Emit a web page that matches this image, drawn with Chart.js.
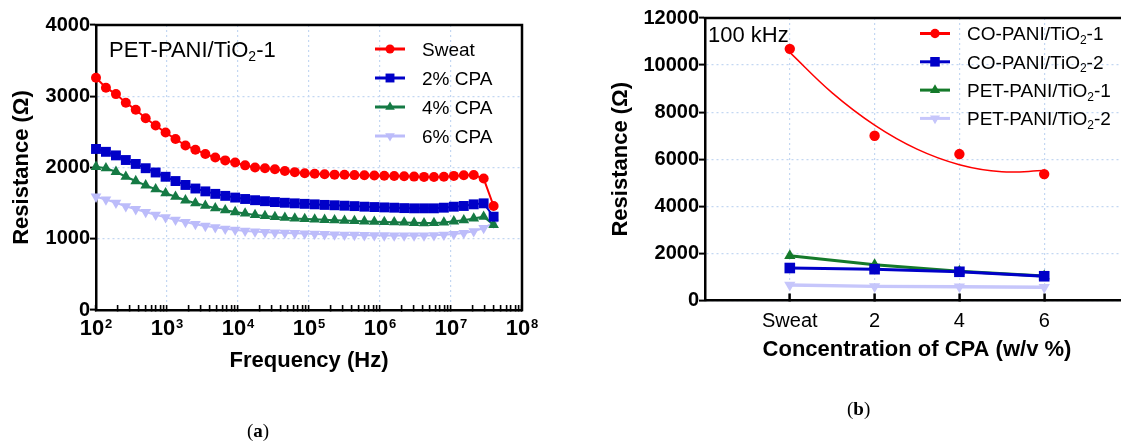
<!DOCTYPE html>
<html>
<head>
<meta charset="utf-8">
<script src="https://cdn.jsdelivr.net/npm/chart.js@4.4.1/dist/chart.umd.min.js"></script>
<style>
  html, body { margin: 0; padding: 0; background: #fff; overflow: hidden; width: 1121px; height: 442px; }
  canvas { position: absolute; top: 0; }
  #chartA { left: 0; }
  #chartB { left: 600px; }
  .cap { position: absolute; font-family: "Liberation Serif", "DejaVu Serif", serif; font-size: 19px; color: #000; }
</style>
</head>
<body>
<canvas id="chartA" width="600" height="442"></canvas>
<canvas id="chartB" width="540" height="442"></canvas>
<div class="cap" style="left:247px; top:420px;">(<b>a</b>)</div>
<div class="cap" style="left:847px; top:398px;">(<b>b</b>)</div>
<script>
// (a) resistance vs frequency, PET-PANI/TiO2-1
const freqHz = [100, 138, 191, 263, 363, 501, 692, 955, 1318, 1820, 2512, 3467, 4786, 6607, 9120,
  12589, 17378, 23988, 33113, 45709, 63096, 87096, 120226, 165959, 229087, 316228, 436516, 602560,
  831764, 1148154, 1584893, 2187762, 3019952, 4168694, 5754399, 7943282, 10964782, 15135612,
  20892961, 28840315, 39810717];
const sweat = [3260, 3120, 3030, 2910, 2810, 2690, 2590, 2490, 2400, 2310, 2250, 2190, 2140, 2100, 2070,
  2030, 2000, 1990, 1975, 1950, 1935, 1920, 1912, 1905, 1900, 1897, 1893, 1890, 1887, 1884, 1880,
  1876, 1872, 1868, 1866, 1870, 1882, 1892, 1895, 1845, 1460];
const cpa2 = [2260, 2220, 2170, 2105, 2050, 1990, 1930, 1870, 1810, 1755, 1705, 1665, 1630, 1602, 1578,
  1558, 1541, 1527, 1515, 1505, 1497, 1490, 1483, 1475, 1470, 1464, 1458, 1450, 1445, 1440, 1436,
  1430, 1427, 1427, 1427, 1436, 1450, 1460, 1483, 1497, 1310];
const cpa4 = [2010, 1990, 1940, 1870, 1810, 1750, 1695, 1640, 1590, 1540, 1500, 1465, 1430, 1400, 1375,
  1355, 1335, 1320, 1305, 1295, 1285, 1278, 1272, 1266, 1260, 1255, 1250, 1245, 1240, 1236, 1232,
  1228, 1224, 1220, 1222, 1228, 1245, 1260, 1285, 1310, 1195];
const cpa6 = [1590, 1550, 1505, 1455, 1415, 1375, 1335, 1300, 1265, 1235, 1205, 1180, 1160, 1140, 1125,
  1110, 1100, 1092, 1086, 1082, 1078, 1072, 1068, 1064, 1060, 1056, 1053, 1050, 1048, 1046, 1045,
  1044, 1044, 1045, 1048, 1055, 1065, 1080, 1105, 1150, 1225];
const freqDecades = [1e2, 1e3, 1e4, 1e5, 1e6, 1e7, 1e8];
const minorSteps = [2, 3, 4, 5, 6, 7, 8, 9];

// (b) resistance at 100 kHz vs CPA concentration
const concX = [0, 2, 4, 6];
const concLabels = ['Sweat', '2', '4', '6'];
const coPani1 = [10690, 7000, 6220, 5370];
const coPani1FitX = [0, 1, 2, 3, 4, 5, 6];
const coPani1Fit = [10540, 8820, 7450, 6430, 5770, 5470, 5520];
const coPani2 = [1380, 1330, 1220, 1030];
const petPani1 = [1900, 1520, 1240, 1040];
const petPani2 = [660, 600, 585, 560];

Chart.defaults.font.family = '"Liberation Sans", Arial, Helvetica, sans-serif';
Chart.defaults.color = '#000';
const FONT = Chart.defaults.font.family;
const gridCol = '#c3d7f2';

function drawRich(ctx, text, x, y, size, weight) {
  // draws "TiO₂" with a real lowered subscript
  const parts = text.split('₂');
  let cx = x;
  parts.forEach((p, i) => {
    ctx.font = weight + ' ' + size + 'px ' + FONT;
    ctx.fillText(p, cx, y);
    cx += ctx.measureText(p).width;
    if (i < parts.length - 1) {
      ctx.font = weight + ' ' + Math.round(size * 0.62) + 'px ' + FONT;
      ctx.fillText('2', cx, y + size * 0.2);
      cx += ctx.measureText('2').width;
    }
  });
}

const decor = {
  id: 'decor',
  afterDraw(chart, args, o) {
    const {ctx, chartArea: a} = chart;
    ctx.save();
    ctx.strokeStyle = '#000';
    ctx.lineWidth = 2.5;
    ctx.beginPath();
    ctx.moveTo(a.left - 1.25, a.top);
    ctx.lineTo(a.right, a.top);
    ctx.lineTo(a.right, a.bottom + 1.25);
    ctx.stroke();

    ctx.fillStyle = '#000';
    ctx.textAlign = 'left';
    ctx.textBaseline = 'alphabetic';
    drawRich(ctx, o.note, o.noteX, o.noteY, o.noteSize, 'normal');

    let row = 0;
    chart.data.datasets.forEach(ds => {
      if (!ds.label) return;
      const y = o.legY + row * o.legGap;
      const x0 = o.legX, x1 = o.legX + 30;
      ctx.strokeStyle = ds.borderColor;
      ctx.lineWidth = 3;
      ctx.beginPath();
      ctx.moveTo(x0, y);
      ctx.lineTo(x1, y);
      ctx.stroke();
      ctx.fillStyle = ds.backgroundColor;
      Chart.helpers.drawPoint(ctx, {pointStyle: ds.pointStyle, radius: ds.pointRadius * 0.9,
        rotation: ds.pointRotation || 0, borderWidth: 0}, (x0 + x1) / 2, y);
      ctx.fillStyle = '#000';
      drawRich(ctx, ds.label, o.legText, y + o.legSize * 0.36, o.legSize, 'normal');
      row++;
    });
    ctx.restore();
  }
};

// 10^n labels under the log axis
const powerTicks = {
  id: 'powerTicks',
  afterDraw(chart) {
    const {ctx} = chart;
    const sx = chart.scales.x;
    ctx.save();
    ctx.fillStyle = '#000';
    ctx.textAlign = 'left';
    ctx.textBaseline = 'alphabetic';
    freqDecades.forEach(v => {
      const e = String(Math.round(Math.log10(v)));
      ctx.font = 'bold 22px ' + FONT;
      const w1 = ctx.measureText('10').width;
      ctx.font = 'bold 13px ' + FONT;
      const w2 = ctx.measureText(e).width;
      const x = sx.getPixelForValue(v) - (w1 + w2 + 1) / 2;
      ctx.font = 'bold 22px ' + FONT;
      ctx.fillText('10', x, 335);
      ctx.font = 'bold 13px ' + FONT;
      ctx.fillText(e, x + w1 + 1, 328);
    });
    ctx.restore();
  }
};

function lineSet(label, xs, ys, color, style, radius, rotation, width) {
  return {
    label: label,
    data: xs.map((x, i) => ({x: x, y: ys[i]})),
    borderColor: color,
    backgroundColor: color,
    borderWidth: width,
    pointStyle: style,
    pointRadius: radius,
    pointRotation: rotation,
    pointBorderWidth: 0,
    pointHoverRadius: radius,
    tension: 0,
    clip: false
  };
}

new Chart(document.getElementById('chartA'), {
  type: 'line',
  data: {
    datasets: [
      lineSet('Sweat', freqHz, sweat, '#ff0000', 'circle', 5, 0, 2),
      lineSet('2% CPA', freqHz, cpa2, '#0000c8', 'rect', 7, 0, 2),
      lineSet('4% CPA', freqHz, cpa4, '#157a44', 'triangle', 6.2, 0, 2),
      lineSet('6% CPA', freqHz, cpa6, '#bcbcfa', 'triangle', 6.2, 180, 2)
    ]
  },
  options: {
    responsive: false,
    animation: false,
    events: [],
    layout: {padding: {left: 0, right: 78, top: 25, bottom: 0}},
    plugins: {
      legend: {display: false},
      tooltip: {enabled: false},
      decor: {note: 'PET-PANI/TiO₂-1', noteX: 109, noteY: 57, noteSize: 22,
        legX: 375, legY: 49, legGap: 29, legText: 422, legSize: 19}
    },
    scales: {
      x: {
        type: 'logarithmic',
        min: 1e2,
        max: 1e8,
        afterBuildTicks: s => {
          const t = [];
          freqDecades.forEach((d, i) => {
            t.push({value: d, major: true});
            if (i < freqDecades.length - 1) minorSteps.forEach(m => t.push({value: m * d, major: false}));
          });
          s.ticks = t;
        },
        ticks: {display: false},
        grid: {
          color: c => (c.tick && c.tick.major) ? gridCol : 'rgba(0,0,0,0)',
          lineWidth: 1.2,
          tickLength: -5,
          tickColor: '#000',
          tickWidth: 1.6
        },
        border: {color: '#000', width: 2.5, dash: [2, 3]},
        title: {display: true, text: 'Frequency (Hz)', color: '#000',
          font: {size: 22, weight: 'bold'}, padding: {top: 0, bottom: 68}},
        afterFit: s => { s.height = 132; }
      },
      y: {
        min: 0,
        max: 4000,
        ticks: {stepSize: 1000, color: '#000', font: {size: 20, weight: 'bold'}, padding: 0,
          callback: v => String(v)},
        grid: {color: gridCol, lineWidth: 1.2, tickLength: 6, tickColor: '#000', tickWidth: 2},
        border: {color: '#000', width: 2.5, dash: [2, 3]},
        title: {display: true, text: 'Resistance (Ω)', color: '#000',
          font: {size: 22, weight: 'bold'}, padding: {top: 9, bottom: 0}},
        afterFit: s => { s.width = 96; }
      }
    }
  },
  plugins: [decor, powerTicks]
});

const fitSet = lineSet('', coPani1FitX, coPani1Fit, '#ff0000', 'circle', 0, 0, 1.5);
fitSet.tension = 0.4;
const coPani1Set = lineSet('CO-PANI/TiO₂-1', concX, coPani1, '#ff0000', 'circle', 5.2, 0, 1.5);
coPani1Set.showLine = false;

new Chart(document.getElementById('chartB'), {
  type: 'line',
  data: {
    datasets: [
      coPani1Set,
      fitSet,
      lineSet('CO-PANI/TiO₂-2', concX, coPani2, '#0000c8', 'rect', 7.5, 0, 3),
      lineSet('PET-PANI/TiO₂-1', concX, petPani1, '#157a2a', 'triangle', 6.5, 0, 3),
      lineSet('PET-PANI/TiO₂-2', concX, petPani2, '#c6c6fb', 'triangle', 6.5, 180, 3.5)
    ]
  },
  options: {
    responsive: false,
    animation: false,
    events: [],
    layout: {padding: {left: 0, right: 11, top: 18, bottom: 0}},
    plugins: {
      legend: {display: false},
      tooltip: {enabled: false},
      decor: {note: '100 kHz', noteX: 108, noteY: 42, noteSize: 22,
        legX: 320, legY: 33.5, legGap: 28.3, legText: 367, legSize: 19}
    },
    scales: {
      x: {
        type: 'linear',
        min: -2,
        max: 8,
        afterBuildTicks: s => { s.ticks = concX.map(v => ({value: v})); },
        ticks: {
          callback: (v, i) => concLabels[i],
          color: '#000',
          font: {size: 20},
          padding: 15.5,
          autoSkip: false,
          maxRotation: 0
        },
        grid: {color: gridCol, lineWidth: 1.2, tickLength: -7, tickColor: '#000', tickWidth: 2.5},
        border: {color: '#000', width: 2.5, dash: [2, 3]},
        title: {display: true, text: 'Concentration of CPA (w/v %)', color: '#000',
          font: {size: 22, weight: 'bold'}, padding: {top: 0, bottom: 79}},
        afterFit: s => { s.height = 141.5; }
      },
      y: {
        min: 0,
        max: 12000,
        ticks: {stepSize: 2000, color: '#000', font: {size: 20, weight: 'bold'}, padding: 0,
          callback: v => String(v)},
        grid: {color: gridCol, lineWidth: 1.2, tickLength: 6, tickColor: '#000', tickWidth: 2},
        border: {color: '#000', width: 2.5, dash: [2, 3]},
        title: {display: true, text: 'Resistance (Ω)', color: '#000',
          font: {size: 22, weight: 'bold'}, padding: {top: 8, bottom: 0}},
        afterFit: s => { s.width = 105; }
      }
    }
  },
  plugins: [decor]
});
</script>
</body>
</html>
